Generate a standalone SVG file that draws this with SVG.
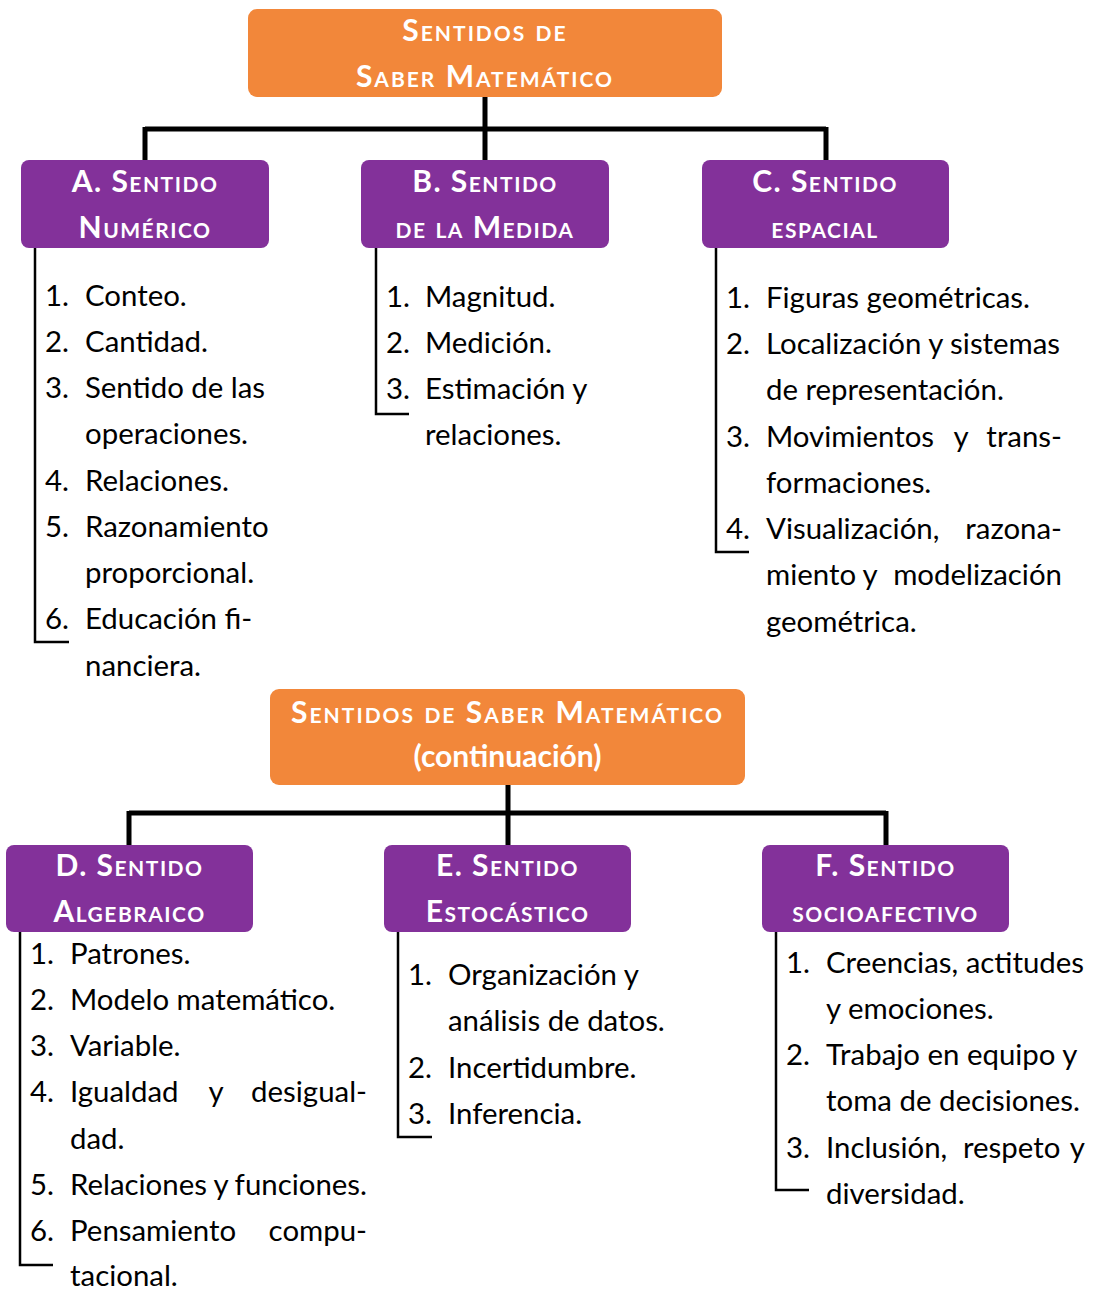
<svg xmlns="http://www.w3.org/2000/svg" width="1097" height="1290" viewBox="0 0 1097 1290">
<style>
.orange{fill:#F2873A}
.purple{fill:#83319A}
.hd{font-family:Lato,"Open Sans",sans-serif;font-weight:bold;font-size:30px;fill:#fff;font-variant:small-caps;text-anchor:middle;letter-spacing:1.5px}
.ho{letter-spacing:2px}
.hn{font-family:Lato,"Open Sans",sans-serif;font-weight:bold;font-size:30px;fill:#fff;text-anchor:middle}
.t{font-family:Lato,"Open Sans",sans-serif;font-size:29.4px;fill:#000}
.e{text-anchor:end}
.m{text-anchor:middle}
.conn{stroke:#000;stroke-width:5;fill:none}
.br{stroke:#000;stroke-width:2.5;fill:none}
</style>
<g id="connectors">
<path class="conn" d="M485,97 V129 M145,129 H826 M145,127 V160 M485,129 V160 M826,127 V160"/>
<path class="conn" d="M508,785 V813 M129,813 H886 M129,811 V845 M508,813 V845 M886,811 V845"/>
<path class="br" d="M35,248 V642 H69"/>
<path class="br" d="M376,248 V414 H409"/>
<path class="br" d="M716,248 V552 H749"/>
<path class="br" d="M20,932 V1265 H53"/>
<path class="br" d="M398,932 V1137 H432"/>
<path class="br" d="M776,932 V1190 H809"/>
</g>
<g id="root1">
<rect class="orange" x="248" y="9" width="474" height="88" rx="9"/>
<text class="hd ho" x="485" y="41">Sentidos de</text>
<text class="hd ho" x="485" y="87">Saber Matemático</text>
</g>
<g id="nodeA">
<rect class="purple" x="21" y="160" width="248" height="88" rx="8"/>
<text class="hd" x="145" y="192">A. Sentido</text>
<text class="hd" x="145" y="238">Numérico</text>
</g>
<g id="nodeB">
<rect class="purple" x="361" y="160" width="248" height="88" rx="8"/>
<text class="hd" x="485" y="192">B. Sentido</text>
<text class="hd" x="485" y="238">de la Medida</text>
</g>
<g id="nodeC">
<rect class="purple" x="702" y="160" width="247" height="88" rx="8"/>
<text class="hd" x="825" y="192">C. Sentido</text>
<text class="hd" x="825" y="238">espacial</text>
</g>
<g id="listA">
<text class="t" x="45" y="306">1.</text><text class="t" x="85" y="306">Conteo.</text>
<text class="t" x="45" y="352">2.</text><text class="t" x="85" y="352">Cantidad.</text>
<text class="t" x="45" y="398">3.</text><text class="t" x="85" y="398">Sentido de las</text>
<text class="t" x="85" y="444">operaciones.</text>
<text class="t" x="45" y="491">4.</text><text class="t" x="85" y="491">Relaciones.</text>
<text class="t" x="45" y="537">5.</text><text class="t" x="85" y="537">Razonamiento</text>
<text class="t" x="85" y="583">proporcional.</text>
<text class="t" x="45" y="629">6.</text><text class="t" x="85" y="629">Educación fi-</text>
<text class="t" x="85" y="676">nanciera.</text>
</g>
<g id="listB">
<text class="t" x="386" y="307">1.</text><text class="t" x="425" y="307">Magnitud.</text>
<text class="t" x="386" y="353">2.</text><text class="t" x="425" y="353">Medición.</text>
<text class="t" x="386" y="399">3.</text><text class="t" x="425" y="399">Estimación y</text>
<text class="t" x="425" y="445">relaciones.</text>
</g>
<g id="listC">
<text class="t" x="726" y="308">1.</text><text class="t" x="766" y="308">Figuras geométricas.</text>
<text class="t" x="726" y="354">2.</text><text class="t" x="766" y="354">Localización y sistemas</text>
<text class="t" x="766" y="400">de representación.</text>
<text class="t" x="726" y="447">3.</text><text class="t" x="766" y="447">Movimientos</text><text class="t m" x="961" y="447">y</text><text class="t e" x="1062" y="447">trans-</text>
<text class="t" x="766" y="493">formaciones.</text>
<text class="t" x="726" y="539">4.</text><text class="t" x="766" y="539">Visualización,</text><text class="t e" x="1062" y="539">razona-</text>
<text class="t" x="766" y="585">miento</text><text class="t m" x="870" y="585">y</text><text class="t e" x="1062" y="585">modelización</text>
<text class="t" x="766" y="632">geométrica.</text>
</g>
<g id="root2">
<rect class="orange" x="270" y="689" width="475" height="96" rx="9"/>
<text class="hd ho" x="507.5" y="723">Sentidos de Saber Matemático</text>
<text class="hn" x="507.5" y="767">(continuación)</text>
</g>
<g id="nodeD">
<rect class="purple" x="6" y="845" width="247" height="87" rx="8"/>
<text class="hd" x="129.5" y="876">D. Sentido</text>
<text class="hd" x="129.5" y="922">Algebraico</text>
</g>
<g id="nodeE">
<rect class="purple" x="384" y="845" width="247" height="87" rx="8"/>
<text class="hd" x="507.5" y="876">E. Sentido</text>
<text class="hd" x="507.5" y="922">Estocástico</text>
</g>
<g id="nodeF">
<rect class="purple" x="762" y="845" width="247" height="87" rx="8"/>
<text class="hd" x="885.5" y="876">F. Sentido</text>
<text class="hd" x="885.5" y="922">socioafectivo</text>
</g>
<g id="listD">
<text class="t" x="30" y="964">1.</text><text class="t" x="70" y="964">Patrones.</text>
<text class="t" x="30" y="1010">2.</text><text class="t" x="70" y="1010">Modelo matemático.</text>
<text class="t" x="30" y="1056">3.</text><text class="t" x="70" y="1056">Variable.</text>
<text class="t" x="30" y="1102">4.</text><text class="t" x="70" y="1102">Igualdad</text><text class="t m" x="216" y="1102">y</text><text class="t e" x="367" y="1102">desigual-</text>
<text class="t" x="70" y="1149">dad.</text>
<text class="t" x="30" y="1195">5.</text><text class="t" x="70" y="1195">Relaciones</text><text class="t m" x="221" y="1195">y</text><text class="t e" x="367" y="1195">funciones.</text>
<text class="t" x="30" y="1241">6.</text><text class="t" x="70" y="1241">Pensamiento</text><text class="t e" x="367" y="1241">compu-</text>
<text class="t" x="70" y="1286">tacional.</text>
</g>
<g id="listE">
<text class="t" x="408" y="985">1.</text><text class="t" x="448" y="985">Organización y</text>
<text class="t" x="448" y="1031">análisis de datos.</text>
<text class="t" x="408" y="1078">2.</text><text class="t" x="448" y="1078">Incertidumbre.</text>
<text class="t" x="408" y="1124">3.</text><text class="t" x="448" y="1124">Inferencia.</text>
</g>
<g id="listF">
<text class="t" x="786" y="973">1.</text><text class="t" x="826" y="973">Creencias, actitudes</text>
<text class="t" x="826" y="1019">y emociones.</text>
<text class="t" x="786" y="1065">2.</text><text class="t" x="826" y="1065">Trabajo en equipo y</text>
<text class="t" x="826" y="1111">toma de decisiones.</text>
<text class="t" x="786" y="1158">3.</text><text class="t" x="826" y="1158">Inclusión,</text><text class="t" x="963" y="1158">respeto</text><text class="t e" x="1085" y="1158">y</text>
<text class="t" x="826" y="1204">diversidad.</text>
</g>
</svg>
